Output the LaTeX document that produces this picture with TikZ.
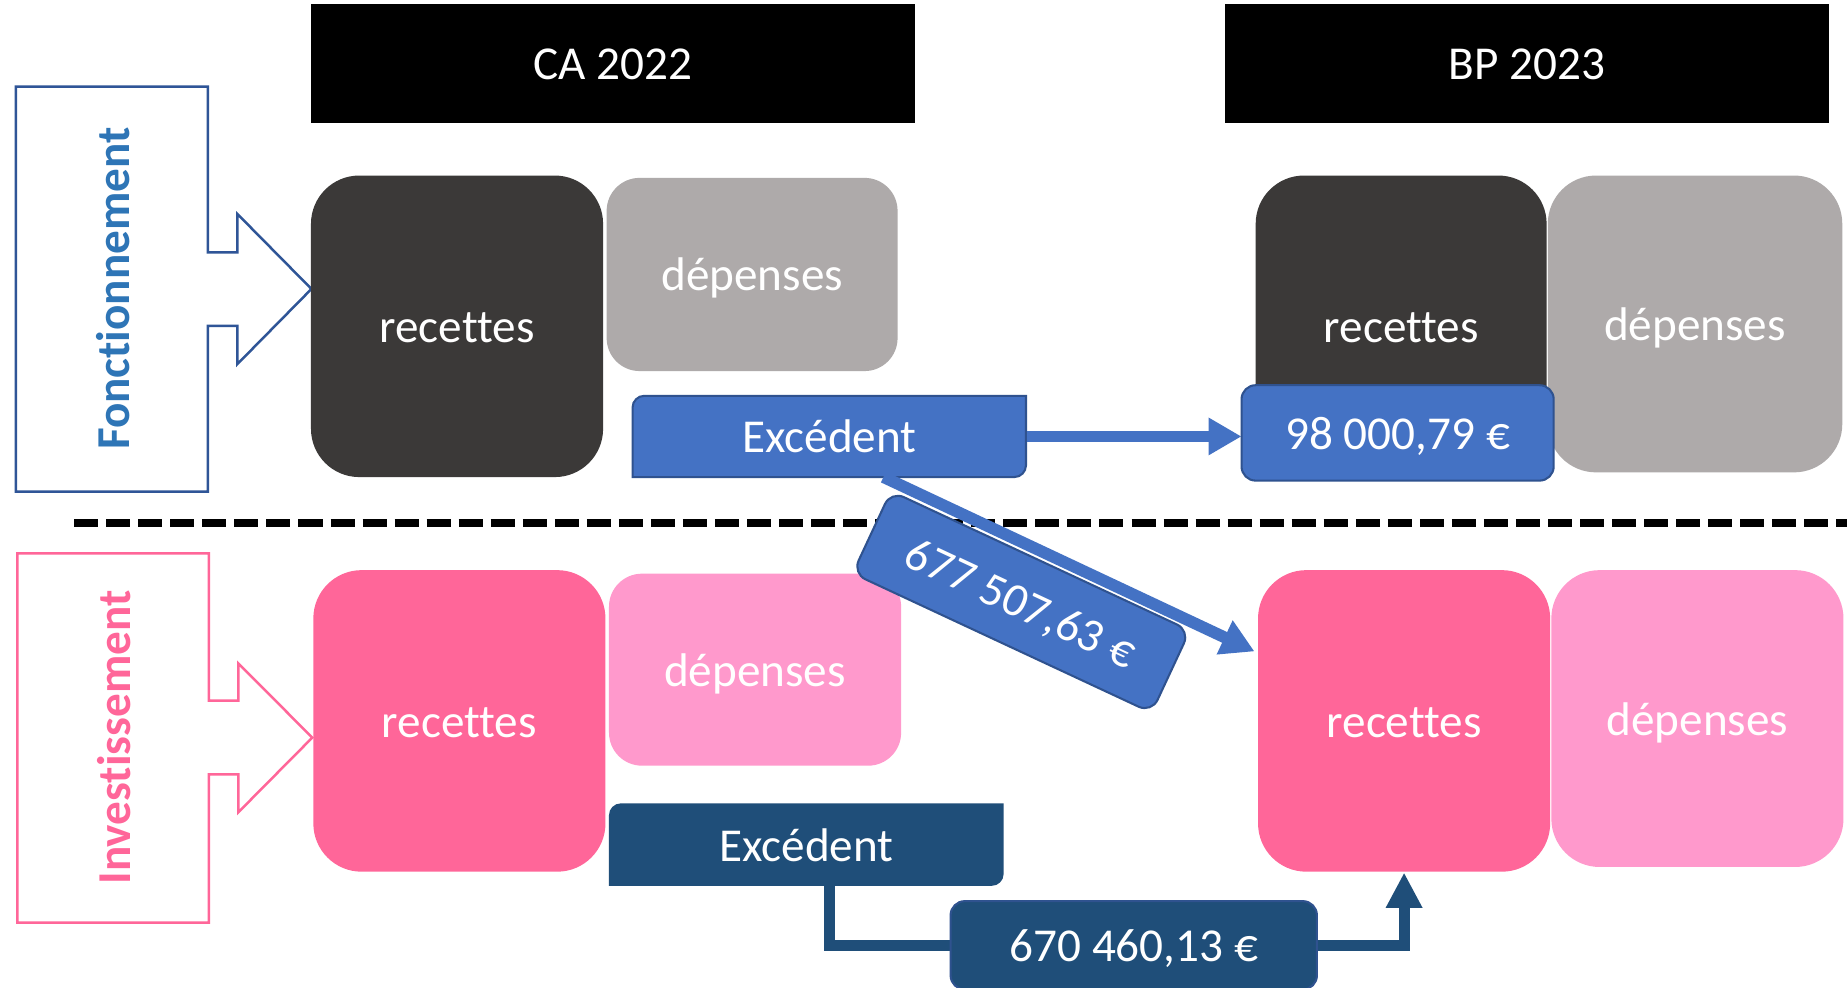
\documentclass[tikz,border=0pt]{standalone}
\usepackage{fontspec}
\setmainfont{Carlito}[Ligatures={NoCommon}]
\usetikzlibrary{arrows.meta,calc}
\definecolor{darkbox}{HTML}{3B3938}
\definecolor{graybox}{HTML}{AEAAAA}
\definecolor{bluebox}{HTML}{4472C4}
\definecolor{blueline}{HTML}{2F528F}
\definecolor{navybox}{HTML}{1F4E79}
\definecolor{pinkbox}{HTML}{FF6699}
\definecolor{lightpink}{HTML}{FF99CC}
\definecolor{fonctblue}{HTML}{2E75B6}
\definecolor{fonctline}{HTML}{2F5597}
\begin{document}
\begin{tikzpicture}[x=0.1mm,y=-0.1mm,
  lbl/.style={font=\fontsize{11.4pt}{13pt}\selectfont, text=white, inner sep=0pt, text height=2.8mm, text depth=0pt},
  header/.style={lbl, rectangle, fill=black, minimum width=51.3mm, minimum height=10.1mm},
  tile/.style={lbl, rectangle, rounded corners=4.1mm},
  valbox/.style={lbl, rectangle, rounded corners=1.2mm, draw=blueline, line width=0.5pt},
  sidelabel/.style={font=\fontsize{11.4pt}{13pt}\selectfont\bfseries, inner sep=0pt, text height=2.8mm, text depth=0pt, rotate=90},
  callout/.style={line width=0.6pt, fill=white},
  flow/.style={line width=1mm, draw=bluebox, -{Triangle[length=2.8mm,width=3mm]}},
  flownavy/.style={line width=0.95mm, draw=navybox, -{Triangle[length=3mm,width=2.9mm]}}
]
\useasboundingbox (0,0) rectangle (1568,838);
\clip (0,0) rectangle (1568,838);
\fill[white] (0,0) rectangle (1568,838);

% headers
\node[header] (ca) at (520.5,53.5) {CA 2022};
\node[header] (bp) at (1296.5,53.5) {BP 2023};

% dashed separator
\coordinate (sepL) at (63,444);
\coordinate (sepR) at (1568,444);
\draw[line width=0.68mm, dash pattern=on 2.04mm off 0.68mm] (sepL) -- (sepR);

% callouts
\draw[callout, draw=fonctline] (13.4,73.5) -- (176.4,73.5) -- (176.4,214.2) -- (201.6,214.2) -- (201.6,181.7) -- (264.4,245.3) -- (201.6,309) -- (201.6,276.7) -- (176.4,276.7) -- (176.4,417.4) -- (13.4,417.4) -- cycle;
\node[sidelabel, text=fonctblue] (fonct) at (96,245) {Fonctionnement};
\draw[callout, draw=pinkbox] (14.7,469.7) -- (177.4,469.7) -- (177.4,594.8) -- (202.3,594.8) -- (202.3,563.1) -- (265.1,626.2) -- (202.3,689.6) -- (202.3,657.3) -- (177.4,657.3) -- (177.4,783.3) -- (14.7,783.3) -- cycle;
\node[sidelabel, text=pinkbox] (invest) at (96.5,626) {Investissement};

% CA 2022 fonctionnement
\node[tile, fill=darkbox, minimum width=24.8mm, minimum height=25.6mm] (rec1) at (388,277) {recettes};
\node[tile, fill=graybox, minimum width=24.7mm, minimum height=16.4mm, rounded corners=2.8mm] (dep1) at (638.5,233) {dépenses};

% BP 2023 fonctionnement
\node[tile, fill=darkbox, minimum width=24.7mm, minimum height=25.6mm] (rec2) at (1189.5,277) {recettes};
\node[tile, fill=graybox, minimum width=25mm, minimum height=25.2mm] (dep2) at (1439,275) {dépenses};

% CA 2022 investissement
\node[tile, fill=pinkbox, minimum width=24.8mm, minimum height=25.6mm] (rec3) at (390,612) {recettes};
\node[tile, fill=lightpink, minimum width=24.8mm, minimum height=16.3mm, rounded corners=2.8mm] (dep3) at (641,568.5) {dépenses};

% BP 2023 investissement
\node[tile, fill=pinkbox, minimum width=24.8mm, minimum height=25.6mm] (rec4) at (1192,612) {recettes};
\node[tile, fill=lightpink, minimum width=24.8mm, minimum height=25.2mm] (dep4) at (1441,610) {dépenses};

% excédent boxes (round diagonal corners)
\fill[bluebox, draw=blueline, line width=0.5pt] (537,405) -- (537,346) .. controls (537,340.48) and (541.48,336) .. (547,336) -- (871,336) -- (871,395) .. controls (871,400.52) and (866.52,405) .. (861,405) -- cycle;
\node[lbl, minimum width=33.4mm, minimum height=6.9mm] (ex1) at (704,370.5) {Excédent};
\fill[navybox] (517,752) -- (517,692) .. controls (517,686.48) and (521.48,682) .. (527,682) -- (852,682) -- (852,742) .. controls (852,747.52) and (847.52,752) .. (842,752) -- cycle;
\node[lbl, minimum width=33.5mm, minimum height=7mm] (ex2) at (684.5,717) {Excédent};

% flows
\coordinate (d0) at (750,405);
\coordinate (d1) at (1065,553);
\draw[flow] (d0) -- (d1);
\draw[flow] (ex1.east) -- (ex1.east -| 1054,0);
\coordinate (b0) at (704,752);

% value boxes
\node[valbox, fill=bluebox, minimum width=26.5mm, minimum height=8.1mm] (val1) at (1186.5,367.5) {98 000,79 €};
\node[valbox, fill=bluebox, minimum width=28mm, minimum height=7.7mm, rotate=-25] (val3) at (867,511) {677 507,63 €};

\draw[flownavy] (b0) |- (962.5,802.5) -| (rec4.south);
\node[valbox, fill=navybox, minimum width=31.1mm, minimum height=7.5mm] (val2) at (962.5,802.5) {670 460,13 €};
\end{tikzpicture}
\end{document}
